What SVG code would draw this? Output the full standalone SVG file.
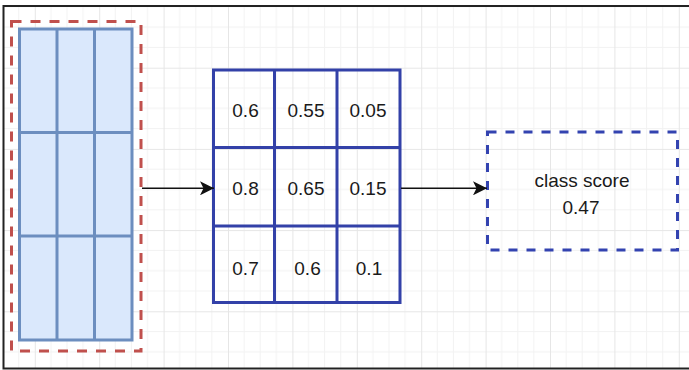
<svg xmlns="http://www.w3.org/2000/svg" width="689" height="370" viewBox="0 0 689 370">
  <style>
    .cell-light { fill: #dae8fc; stroke: #6c8ebf; stroke-width: 3; }
    .grid-line-light { stroke: #6c8ebf; stroke-width: 3; fill: none; }
    .grid-line-dark { stroke: #3341a8; stroke-width: 3; fill: none; }
    .val { font-family: "Liberation Sans", Arial, sans-serif; font-size: 19px; fill: #1a1a1a; text-anchor: middle; }
    .edge { stroke: #111; stroke-width: 1.6; fill: none; }
  </style>
  <defs>
    <pattern id="bgGrid" patternUnits="userSpaceOnUse" x="34.8" y="67.7" width="64.4" height="81.2">
      <g stroke="#f2f2f2" stroke-width="1">
        <line x1="16.1" y1="0" x2="16.1" y2="81.2"/>
        <line x1="32.2" y1="0" x2="32.2" y2="81.2"/>
        <line x1="48.3" y1="0" x2="48.3" y2="81.2"/>
        <line x1="0" y1="20.3" x2="64.4" y2="20.3"/>
        <line x1="0" y1="40.6" x2="64.4" y2="40.6"/>
        <line x1="0" y1="60.9" x2="64.4" y2="60.9"/>
      </g>
      <g stroke="#e6e6e6" stroke-width="1">
        <line x1="0.5" y1="0" x2="0.5" y2="81.2"/>
        <line x1="0" y1="0.5" x2="64.4" y2="0.5"/>
      </g>
    </pattern>
    <marker id="arrowHead" markerUnits="userSpaceOnUse" viewBox="0 0 14 14" refX="14" refY="7" markerWidth="14" markerHeight="14" orient="auto">
      <path d="M0,0 L14,7 L0,14 L3.5,7 Z" fill="#111"/>
    </marker>
  </defs>

  <!-- canvas -->
  <rect x="0" y="0" width="689" height="370" fill="#ffffff"/>
  <rect x="3.5" y="6" width="700" height="362.5" fill="url(#bgGrid)"/>
  <rect x="3.5" y="6" width="700" height="362.5" fill="none" stroke="#222" stroke-width="2"/>

  <!-- input feature strip inside a dashed container -->
  <g id="input-strip">
    <rect x="11.5" y="21.5" width="129.5" height="329.5" fill="none" stroke="#c0504d" stroke-width="3" stroke-dasharray="10 9"/>
    <rect class="cell-light" x="19.5" y="29" width="112.5" height="311"/>
    <line class="grid-line-light" x1="57" y1="29" x2="57" y2="340"/>
    <line class="grid-line-light" x1="94.5" y1="29" x2="94.5" y2="340"/>
    <line class="grid-line-light" x1="19.5" y1="132.5" x2="132" y2="132.5"/>
    <line class="grid-line-light" x1="19.5" y1="236" x2="132" y2="236"/>
  </g>

  <!-- 3x3 score map -->
  <g id="score-grid">
    <rect x="213.5" y="70" width="186.5" height="232.5" fill="#ffffff" fill-opacity="0" class="grid-line-dark"/>
    <line class="grid-line-dark" x1="274.5" y1="70" x2="274.5" y2="302.5"/>
    <line class="grid-line-dark" x1="337" y1="70" x2="337" y2="302.5"/>
    <line class="grid-line-dark" x1="213.5" y1="147.5" x2="400" y2="147.5"/>
    <line class="grid-line-dark" x1="213.5" y1="226" x2="400" y2="226"/>
    <text class="val" x="245.5" y="117">0.6</text>
    <text class="val" x="306" y="117">0.55</text>
    <text class="val" x="368" y="117">0.05</text>
    <text class="val" x="245.5" y="195">0.8</text>
    <text class="val" x="306" y="195">0.65</text>
    <text class="val" x="368" y="195">0.15</text>
    <text class="val" x="245.5" y="274.5">0.7</text>
    <text class="val" x="307.5" y="274.5">0.6</text>
    <text class="val" x="369" y="274.5">0.1</text>
  </g>

  <!-- pooled output -->
  <g id="class-score">
    <rect x="487.5" y="132" width="190" height="118" fill="none" stroke="#3343b0" stroke-width="3" stroke-dasharray="9 9"/>
    <text class="val" x="582" y="186.5">class score</text>
    <text class="val" x="581" y="214">0.47</text>
  </g>

  <!-- connectors -->
  <g id="connectors">
    <line class="edge" x1="142" y1="188.3" x2="214" y2="188.3" marker-end="url(#arrowHead)"/>
    <line class="edge" x1="401" y1="188.3" x2="487" y2="188.3" marker-end="url(#arrowHead)"/>
  </g>
</svg>
